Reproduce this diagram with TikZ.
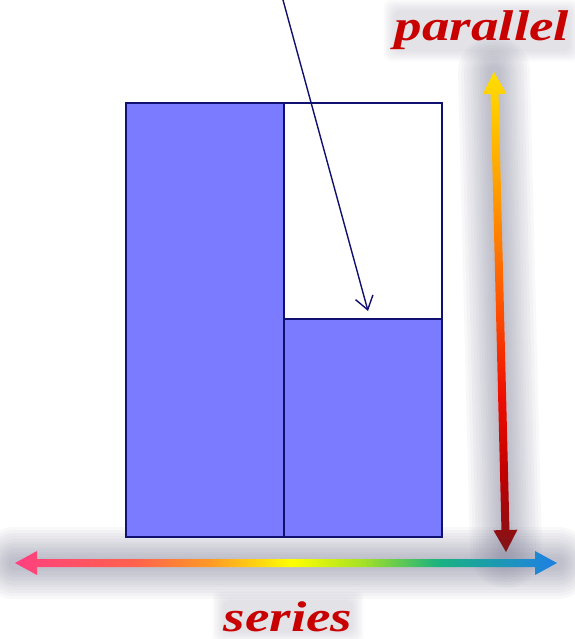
\documentclass[tikz,border=0pt]{standalone}
\usepackage{fontspec}
\usetikzlibrary{calc,arrows.meta,backgrounds}
\newfontfamily\labelfont[FakeStretch=1.28]{Liberation Serif}
\definecolor{cellblue}{RGB}{123,123,255}
\definecolor{edgenavy}{RGB}{16,16,112}
\definecolor{labelred}{RGB}{200,0,0}
\definecolor{glowgray}{RGB}{120,120,145}
\pgfdeclarehorizontalshading{seriesshade}{100bp}{rgb(0bp)=(1,0.25,0.5); rgb(25bp)=(1,0.25,0.5); rgb(36bp)=(1,0.38,0.3); rgb(43bp)=(1,0.6,0.15); rgb(50.5bp)=(1,1,0); rgb(57bp)=(0.65,0.88,0.15); rgb(64bp)=(0.1,0.7,0.5); rgb(75bp)=(0.12,0.5,0.9); rgb(100bp)=(0.12,0.5,0.9)}
\pgfdeclareverticalshading{parallelshade}{100bp}{rgb(0bp)=(0.5,0.08,0.1); rgb(25bp)=(0.5,0.08,0.1); rgb(33bp)=(0.75,0,0); rgb(41bp)=(0.93,0.05,0); rgb(51bp)=(1,0.33,0); rgb(62bp)=(1,0.6,0); rgb(75bp)=(1,0.87,0); rgb(100bp)=(1,0.87,0)}
% fat double arrow between two tips, filled with a shading
\newcommand\fatarrow[3]{%
  \shade[shading=#3] (#1)
    -- ($(#1)!22pt!(#2)!12pt!90:(#2)$) -- ($(#1)!22pt!(#2)!4pt!90:(#2)$)
    -- ($(#2)!22pt!(#1)!4pt!-90:(#1)$) -- ($(#2)!22pt!(#1)!12pt!-90:(#1)$)
    -- (#2)
    -- ($(#2)!22pt!(#1)!12pt!90:(#1)$) -- ($(#2)!22pt!(#1)!4pt!90:(#1)$)
    -- ($(#1)!22pt!(#2)!4pt!-90:(#2)$) -- ($(#1)!22pt!(#2)!12pt!-90:(#2)$)
    -- cycle;}
\begin{document}
\begin{tikzpicture}[x=1pt, y=-1pt,
	cell/.style={ draw=edgenavy, line width=1.8pt, anchor=north west, inner sep=0pt, minimum width=158pt },
	pointer/.style={ edgenavy, line width=1.4pt, -{Straight Barb[length=13pt,width=18pt]} },
	glow/.style={ glowgray, opacity=0.05, line cap=round },
	label/.style={ labelred, anchor=base, inner sep=0pt, font=\labelfont\bfseries\itshape\fontsize{43}{43}\selectfont }
]
\useasboundingbox (0,0) rectangle (574,639);

\coordinate (sleft) at (15,563);
\coordinate (sright) at (557,563);
\coordinate (pbottom) at (506,552);
\coordinate (ptop) at (494,72);

\foreach \w in {72,66,60,54,48,43,38,33,28,23,18,13} {
  \draw[glow, line width=\w pt] (sleft) -- (sright);
  \draw[glow, line width=\w pt] (pbottom) -- (ptop);
}

\node at (125,102) (leftcol) [cell, fill=cellblue, minimum height=434pt] {};
\node at (283,102) (topcell) [cell, fill=white, minimum height=216pt] {};
\node at (283,318) (botcell) [cell, fill=cellblue, minimum height=218pt] {};

\coordinate (from) at (283,0);
\coordinate (to) at (368,311);
\draw[pointer] (from) -- (to);

\fatarrow{sleft}{sright}{seriesshade}
\fatarrow{pbottom}{ptop}{parallelshade}

\node at (482,41) (par) [label] {parallel};
\node at (288,631) (ser) [label] {series};

% soft halo behind the two labels
\begin{scope}[on background layer]
\foreach \r in {1,3,...,11} {
  \fill[glowgray, opacity=0.04, rounded corners=8pt]
    ($(par.south west)+(-\r,\r)$) rectangle ($(par.north east)+(\r,-\r)$);
  \fill[glowgray, opacity=0.04, rounded corners=8pt]
    ($(ser.south west)+(-\r,\r)$) rectangle ($(ser.north east)+(\r,-\r)$);
}
\end{scope}

\end{tikzpicture}
\end{document}
